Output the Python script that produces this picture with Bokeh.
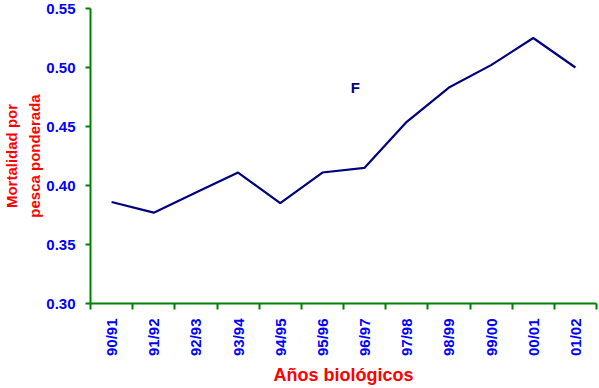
import math
from bokeh.plotting import figure
from bokeh.models import Range1d, FixedTicker, Label
from bokeh.embed import file_html
from bokeh.resources import INLINE

years = ["90/91", "91/92", "92/93", "93/94", "94/95", "95/96",
         "96/97", "97/98", "98/99", "99/00", "00/01", "01/02"]
mortality = [0.386, 0.377, 0.394, 0.411, 0.385, 0.411,
             0.415, 0.454, 0.483, 0.502, 0.525, 0.500]
y_ticks = [0.30, 0.35, 0.40, 0.45, 0.50, 0.55]

xpos = [i + 0.5 for i in range(len(years))]

p = figure(width=599, height=388, output_backend="svg", toolbar_location=None,
           x_range=Range1d(0, len(years)), y_range=Range1d(0.30, 0.55),
           min_border_left=90, min_border_right=3, min_border_top=8,
           min_border_bottom=85)
p.outline_line_color = None
p.xgrid.grid_line_color = None
p.ygrid.grid_line_color = None
p.background_fill_color = "white"
p.border_fill_color = "white"

p.line(xpos, mortality, line_color="#000080", line_width=2.2)

font = "Liberation Sans"
green = "#008000"
blue = "#0000FF"
red = "#FF0000"

xa = p.xaxis[0]
xa.ticker = FixedTicker(ticks=xpos, minor_ticks=list(range(len(years) + 1)))
xa.major_label_overrides = {x: y for x, y in zip(xpos, years)}
xa.major_label_orientation = math.pi / 2
xa.major_tick_line_color = None
xa.minor_tick_line_color = green
xa.minor_tick_line_width = 2
xa.minor_tick_out = 6
xa.minor_tick_in = 0
xa.axis_line_color = green
xa.axis_line_width = 2
xa.major_label_text_color = blue
xa.major_label_text_font = font
xa.major_label_text_font_style = "bold"
xa.major_label_text_font_size = "15px"
xa.major_label_standoff = 9
xa.axis_label = "Años biológicos"
xa.axis_label_text_color = red
xa.axis_label_text_font = font
xa.axis_label_text_font_style = "bold"
xa.axis_label_text_font_size = "18px"
xa.axis_label_standoff = 6

ya = p.yaxis[0]
ya.ticker = FixedTicker(ticks=y_ticks, minor_ticks=[])
ya.axis_line_color = green
ya.axis_line_width = 2
ya.major_tick_line_color = green
ya.major_tick_line_width = 2
ya.major_tick_out = 5
ya.major_tick_in = 0
ya.minor_tick_line_color = None
ya.major_label_text_color = blue
ya.major_label_text_font = font
ya.major_label_text_font_style = "bold"
ya.major_label_text_font_size = "15px"
ya.major_label_standoff = 10
ya.major_label_overrides = {t: f"{t:.2f}" for t in y_ticks}
ya.axis_label = "Mortalidad por\npesca ponderada"
ya.axis_label_text_color = red
ya.axis_label_text_font = font
ya.axis_label_text_font_style = "bold"
ya.axis_label_text_font_size = "15px"
ya.axis_label_text_line_height = 1.35
ya.axis_label_standoff = 0

p.add_layout(Label(x=6.28, y=0.483, text="F",
                   text_align="center", text_baseline="middle",
                   text_color="#000080", text_font=font, text_font_style="bold",
                   text_font_size="15px"))

open("out.html", "w").write(file_html(p, INLINE))
